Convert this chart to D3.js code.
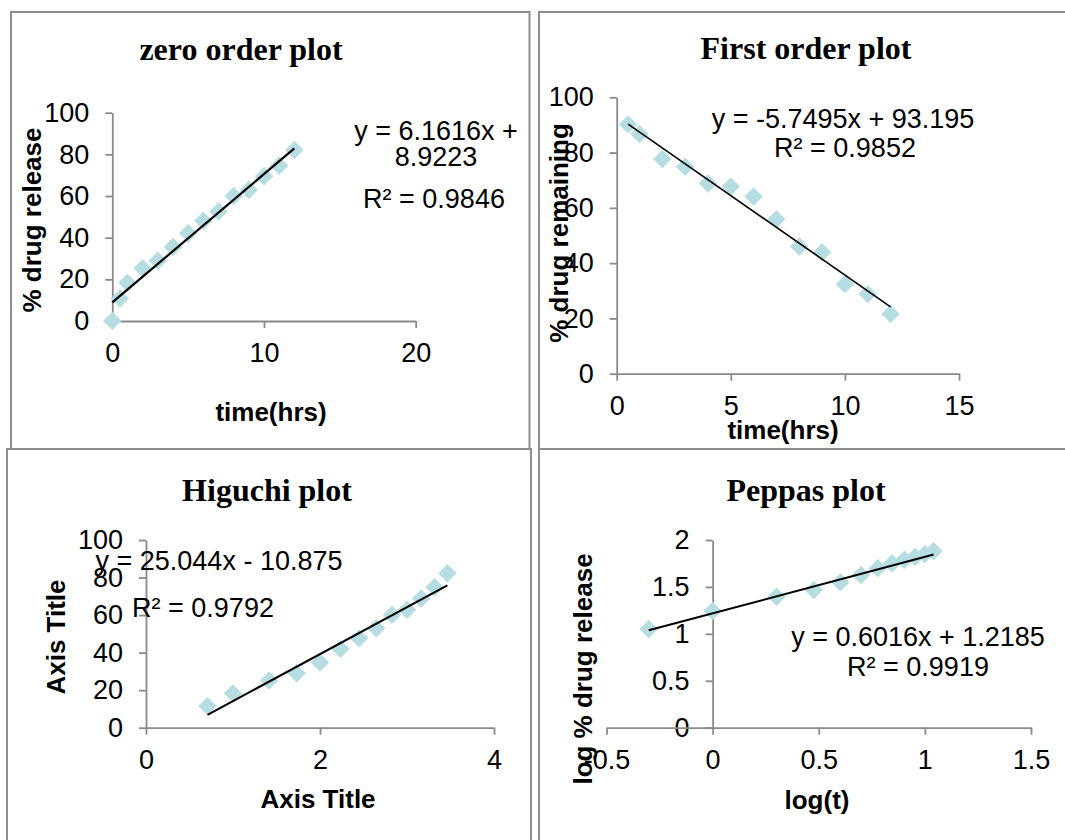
<!DOCTYPE html>
<html><head><meta charset="utf-8">
<script src="https://cdn.jsdelivr.net/npm/d3@7"></script>
<style>body{margin:0;background:#fff} svg{display:block}</style>
</head><body>
<svg id="c" width="1065" height="840"></svg>
<script>
// ---- data ----
const zeroTime = [0,0.5,1,2,3,4,5,6,7,8,9,10,11,12];
const zeroRelease = [0,10.8,18.4,25.3,28.9,35.5,42.1,48.1,52.6,60.0,62.9,69.5,74.5,82.1];
const firstTime = [0.5,1,2,3,4,5,6,7,8,9,10,11,12];
const firstRemaining = [90.2,86.7,77.7,74.9,68.8,67.7,64.1,55.9,46.0,43.9,32.4,28.8,21.6];
const higuchiRootTime = [0.707,1,1.414,1.732,2,2.236,2.449,2.646,2.828,3,3.162,3.317,3.464];
const higuchiRelease = [11.5,18.3,25.1,29.0,34.7,42.0,47.6,53.0,60.1,62.8,68.8,74.8,82.3];
const peppasLogTime = [-0.301,0,0.301,0.477,0.602,0.699,0.778,0.845,0.903,0.954,1.0,1.041];
const peppasLogRelease = [1.052,1.243,1.396,1.467,1.549,1.627,1.700,1.750,1.790,1.820,1.850,1.880];

const panelTitles = ["zero order plot","First order plot","Higuchi plot","Peppas plot"];
const xTitles = ["time(hrs)","time(hrs)","Axis Title","log(t)"];
const yTitles = ["% drug release","% drug remaining","Axis Title","log % drug release"];
const slopes = [6.1616,-5.7495,25.044,0.6016];
const intercepts = [8.9223,93.195,-10.875,1.2185];
const equationLabels = [["y = 6.1616x +","8.9223"],["y = -5.7495x + 93.195"],["y = 25.044x - 10.875"],["y = 0.6016x + 1.2185"]];
const r2Labels = ["R² = 0.9846","R² = 0.9852","R² = 0.9792","R² = 0.9919"];
const xDomains = [[0,20],[0,15],[0,4],[-0.5,1.5]];
const yDomains = [[0,100],[0,100],[0,100],[0,2]];
const xTicks = [[0,10,20],[0,5,10,15],[0,2,4],[-0.5,0,0.5,1,1.5]];
const yTicks = [[0,20,40,60,80,100],[0,20,40,60,80,100],[0,20,40,60,80,100],[0,0.5,1,1.5,2]];
const seriesX = [zeroTime, firstTime, higuchiRootTime, peppasLogTime];
const seriesY = [zeroRelease, firstRemaining, higuchiRelease, peppasLogRelease];

// ---- layout ----
const layout = [
  {frame:[11,12,529.5,449], xr:[112.3,415.7], yr:[321,112.7], title:[241,60], xt:[271,421], yt:[41,220],
   eq:[[436,140],[436,166]], r2:[434,208], lw:2.2},
  {frame:[539,12,1120,449], xr:[616.7,959], yr:[373.7,97.3], title:[806,59], xt:[783,439], yt:[568,233],
   eq:[[843,128]], r2:[845,157], lw:1.6},
  {frame:[7,449,531,900], xr:[146,494], yr:[727.7,540], title:[267,501], xt:[318,808], yt:[65,637],
   eq:[[219,570]], r2:[203,617], lw:2},
  {frame:[539,449,1120,900], xr:[606.5,1031], yr:[727.7,540], title:[806,501], xt:[817,809], yt:[592,669],
   eq:[[918,646]], r2:[918,676], lw:2}
];

const svg = d3.select("#c");
svg.append("rect").attr("width",1065).attr("height",840).attr("fill","#fff");

const SANS = "'Liberation Sans', Arial, sans-serif";
const SERIF = "'Liberation Serif', 'Times New Roman', serif";
const AXIS_COLOR = "#8a8a8a";
const MARK = "#b6dde1";

layout.forEach((L, i) => {
  const g = svg.append("g");
  const [fx0, fy0, fx1, fy1] = L.frame;
  g.append("rect").attr("x",fx0).attr("y",fy0).attr("width",fx1-fx0).attr("height",fy1-fy0)
    .attr("fill","none").attr("stroke","#8e8e8e").attr("stroke-width",2);

  const x = d3.scaleLinear().domain(xDomains[i]).range(L.xr);
  const y = d3.scaleLinear().domain(yDomains[i]).range(L.yr);

  const fmt = d => String(d);
  const yAxis = g.append("g").attr("transform",`translate(${x(0)},0)`)
    .call(d3.axisLeft(y).tickValues(yTicks[i]).tickSize(7).tickPadding(16).tickFormat(fmt).tickSizeOuter(0));
  const xAxis = g.append("g").attr("transform",`translate(0,${y(0)})`)
    .call(d3.axisBottom(x).tickValues(xTicks[i]).tickSize(7).tickPadding(15).tickFormat(fmt).tickSizeOuter(0));
  [yAxis, xAxis].forEach(a => {
    a.select(".domain").attr("stroke",AXIS_COLOR).attr("stroke-width",1.8);
    a.selectAll(".tick line").attr("stroke",AXIS_COLOR).attr("stroke-width",1.8);
    a.selectAll(".tick text").attr("fill","#000").style("font-family",SANS).style("font-size","27px");
  });

  // markers (diamonds)
  const pts = seriesX[i].map((v, k) => [v, seriesY[i][k]]);
  const h = 9.2;
  g.append("g").selectAll("path").data(pts).join("path")
    .attr("d", d => `M${x(d[0])},${y(d[1])-h}L${x(d[0])+h},${y(d[1])}L${x(d[0])},${y(d[1])+h}L${x(d[0])-h},${y(d[1])}Z`)
    .attr("fill", MARK);

  // linear trendline
  const xs = d3.extent(seriesX[i]);
  const line = d3.line().x(d => x(d)).y(d => y(slopes[i]*d + intercepts[i]));
  g.append("path").attr("d", line(xs)).attr("stroke","#000").attr("stroke-width",L.lw).attr("fill","none");

  // texts
  g.append("text").attr("x",L.title[0]).attr("y",L.title[1]).attr("text-anchor","middle")
    .style("font-family",SERIF).style("font-weight","bold").style("font-size","32px").text(panelTitles[i]);
  g.append("text").attr("x",L.xt[0]).attr("y",L.xt[1]).attr("text-anchor","middle")
    .style("font-family",SANS).style("font-weight","bold").style("font-size","26px").text(xTitles[i]);
  g.append("text").attr("transform",`translate(${L.yt[0]},${L.yt[1]}) rotate(-90)`).attr("text-anchor","middle")
    .style("font-family",SANS).style("font-weight","bold").style("font-size","26px").text(yTitles[i]);
  equationLabels[i].forEach((t, k) => {
    g.append("text").attr("x",L.eq[k][0]).attr("y",L.eq[k][1]).attr("text-anchor","middle")
      .style("font-family",SANS).style("font-size","27px").text(t);
  });
  g.append("text").attr("x",L.r2[0]).attr("y",L.r2[1]).attr("text-anchor","middle")
    .style("font-family",SANS).style("font-size","27px").text(r2Labels[i]);
});
</script>
</body></html>
